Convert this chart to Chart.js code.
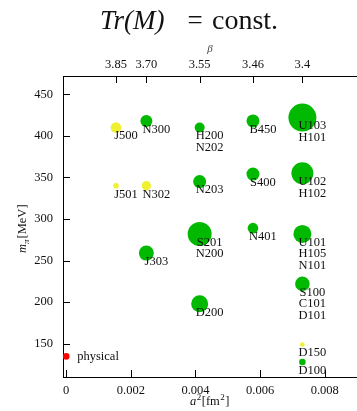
<!DOCTYPE html>
<html>
<head>
<meta charset="utf-8">
<script src="https://cdn.jsdelivr.net/npm/chart.js@4/dist/chart.umd.min.js"></script>
<style>
  html, body { margin: 0; padding: 0; background: #fff; overflow: hidden; }
  #wrap { width: 357px; height: 411px; position: relative; }
  canvas { display: block; }
</style>
</head>
<body>
<div id="wrap"><canvas id="ensembles"></canvas></div>
<script>
// lattice spacing a^2 [fm^2] for each beta (top axis)
const betaLabels = ["3.85", "3.70", "3.55", "3.46", "3.4"];
const betaA2 = [0.00154, 0.00248, 0.00413, 0.00578, 0.00731];

const xTicks = [0, 0.002, 0.004, 0.006, 0.008];
const yTicks = [150, 200, 250, 300, 350, 400, 450];

// green ensembles
const greenNames = ["N300", "H200\nN202", "B450", "U103\nH101", "N203", "S400", "U102\nH102",
                    "J303", "S201\nN200", "N401", "U101\nH105\nN101", "S100\nC101\nD101", "D200", "D100"];
const greenA2 = [0.00248, 0.00413, 0.00578, 0.00731, 0.00413, 0.00578, 0.00731,
                 0.00248, 0.00413, 0.00578, 0.00731, 0.00731, 0.00413, 0.00731];
const greenMpi = [418, 410, 418, 422, 345, 354, 355, 259, 282, 289, 282, 222, 198, 128];
const greenSize = [6, 5, 6.5, 14, 6.5, 6.5, 11, 7.5, 12, 5.3, 9, 7.3, 8.5, 3.3];

// yellow ensembles
const yellowNames = ["J500", "J501", "N302", "D150"];
const yellowA2 = [0.00154, 0.00154, 0.00248, 0.00731];
const yellowMpi = [410, 340, 340, 149];
const yellowSize = [5.3, 2.8, 4.7, 2.3];

// physical point
const physNames = ["physical"];
const physA2 = [0];
const physMpi = [134.8];
const physSize = [3.3];

const FONT = "'Liberation Serif', 'DejaVu Serif', serif";

function pts(xs, ys, rs) {
    return xs.map(function (x, i) { return { x: x, y: ys[i], r: rs[i] }; });
}

const textPlugin = {
    id: "texts",
    afterDatasetsDraw: function (chart) {
        const ctx = chart.ctx;
        ctx.save();
        ctx.fillStyle = "#111";
        ctx.font = "12.5px " + FONT;
        ctx.textBaseline = "middle";
        chart.data.datasets.forEach(function (ds, di) {
            const meta = chart.getDatasetMeta(di);
            meta.data.forEach(function (el, i) {
                const lines = ds.names[i].split("\n");
                if (ds.labelSide === "right") {
                    ctx.textAlign = "left";
                    ctx.fillText(lines[0], el.x + 11, el.y);
                } else {
                    ctx.textAlign = "center";
                    lines.forEach(function (t, k) {
                        ctx.fillText(t, el.x + 10, el.y + 8.5 + k * 11.5);
                    });
                }
            });
        });
        ctx.restore();
    },
    afterDraw: function (chart) {
        const ctx = chart.ctx;
        const a = chart.chartArea;
        const sx = chart.scales.x, sx2 = chart.scales.x2, sy = chart.scales.y;
        ctx.save();
        // inward ticks
        ctx.strokeStyle = "#000";
        ctx.lineWidth = 1;
        ctx.beginPath();
        xTicks.forEach(function (v) {
            const p = Math.round(sx.getPixelForValue(v)) + 0.5;
            ctx.moveTo(p, a.bottom); ctx.lineTo(p, a.bottom - 7);
        });
        betaA2.forEach(function (v) {
            const p = Math.round(sx2.getPixelForValue(v)) + 0.5;
            ctx.moveTo(p, a.top); ctx.lineTo(p, a.top + 7);
        });
        yTicks.forEach(function (v) {
            const p = Math.round(sy.getPixelForValue(v)) + 0.5;
            ctx.moveTo(a.left, p); ctx.lineTo(a.left + 7, p);
        });
        ctx.stroke();

        ctx.fillStyle = "#111";
        ctx.textBaseline = "alphabetic";
        // title
        ctx.textAlign = "left";
        ctx.font = "italic 27px " + FONT;
        ctx.fillText("Tr(M)", 100, 29);
        ctx.font = "27px " + FONT;
        ctx.textAlign = "center";
        ctx.fillText("=", 195, 29);
        ctx.textAlign = "left";
        ctx.font = "28px " + FONT;
        ctx.fillText("const.", 212, 29);

        // beta title
        ctx.textAlign = "center";
        ctx.fillStyle = "#444";
        ctx.font = "italic 11px " + FONT;
        ctx.fillText("β", 210, 52);
        ctx.fillStyle = "#111";

        // x title: a^2[fm^2]
        ctx.textAlign = "left";
        let x = 190;
        const yb = 405;
        ctx.font = "italic 12.5px " + FONT;
        ctx.fillText("a", x, yb); x += ctx.measureText("a").width + 0.5;
        ctx.font = "9px " + FONT;
        ctx.fillText("2", x, yb - 5); x += ctx.measureText("2").width + 0.5;
        ctx.font = "12.5px " + FONT;
        ctx.fillText("[fm", x, yb); x += ctx.measureText("[fm").width + 0.5;
        ctx.font = "9px " + FONT;
        ctx.fillText("2", x, yb - 5); x += ctx.measureText("2").width + 0.5;
        ctx.font = "12.5px " + FONT;
        ctx.fillText("]", x, yb);

        // y title: m_pi[MeV], rotated
        ctx.translate(26, 253);
        ctx.rotate(-Math.PI / 2);
        x = 0;
        ctx.font = "italic 12.5px " + FONT;
        ctx.fillText("m", x, 0); x += ctx.measureText("m").width;
        ctx.font = "italic 9px " + FONT;
        ctx.fillText("π", x, 3); x += ctx.measureText("π").width + 1;
        ctx.font = "12.5px " + FONT;
        ctx.fillText("[MeV]", x, 0);
        ctx.restore();
    }
};

function noSidePad(s, h) {
    s.height = h;
    s.paddingLeft = 0;
    s.paddingRight = 0;
}

const ctx = document.getElementById("ensembles").getContext("2d");

new Chart(ctx, {
    type: "bubble",
    data: {
        datasets: [{
            names: greenNames,
            data: pts(greenA2, greenMpi, greenSize),
            backgroundColor: "rgb(0, 185, 0)",
            borderWidth: 0
        }, {
            names: yellowNames,
            data: pts(yellowA2, yellowMpi, yellowSize),
            backgroundColor: "rgb(240, 240, 50)",
            borderWidth: 0
        }, {
            names: physNames,
            labelSide: "right",
            data: pts(physA2, physMpi, physSize),
            backgroundColor: "rgb(255, 0, 0)",
            borderWidth: 0
        }]
    },
    options: {
        responsive: true,
        maintainAspectRatio: false,
        animation: false,
        clip: false,
        layout: { autoPadding: false, padding: { top: 56, right: 0, bottom: 0, left: 0 } },
        plugins: {
            legend: { display: false },
            tooltip: { enabled: false }
        },
        scales: {
            x: {
                type: "linear",
                position: "bottom",
                min: -0.0001,
                max: 0.009,
                afterBuildTicks: function (s) { s.ticks = xTicks.map(function (v) { return { value: v }; }); },
                afterFit: function (s) { noSidePad(s, 34); },
                ticks: {
                    padding: 6,
                    color: "#111",
                    font: { family: FONT, size: 12.5 },
                    maxRotation: 0,
                    callback: function (v) { return String(v); }
                },
                grid: { display: false, drawTicks: false },
                border: { display: true, color: "#000", width: 1 }
            },
            x2: {
                type: "linear",
                position: "top",
                min: -0.0001,
                max: 0.009,
                afterBuildTicks: function (s) { s.ticks = betaA2.map(function (v) { return { value: v }; }); },
                afterFit: function (s) { noSidePad(s, 20); },
                ticks: {
                    padding: 4,
                    color: "#111",
                    font: { family: FONT, size: 12.5 },
                    maxRotation: 0,
                    callback: function (v) { return betaLabels[betaA2.indexOf(v)]; }
                },
                grid: { display: false, drawTicks: false },
                border: { display: true, color: "#000", width: 1 }
            },
            y: {
                type: "linear",
                min: 110,
                max: 472,
                afterBuildTicks: function (s) { s.ticks = yTicks.map(function (v) { return { value: v }; }); },
                afterFit: function (s) { s.width = 63; s.paddingTop = 0; s.paddingBottom = 0; },
                ticks: {
                    padding: 10,
                    color: "#111",
                    font: { family: FONT, size: 12.5 }
                },
                grid: { display: false, drawTicks: false },
                border: { display: true, color: "#000", width: 1 }
            }
        }
    },
    plugins: [textPlugin]
});
</script>
</body>
</html>
